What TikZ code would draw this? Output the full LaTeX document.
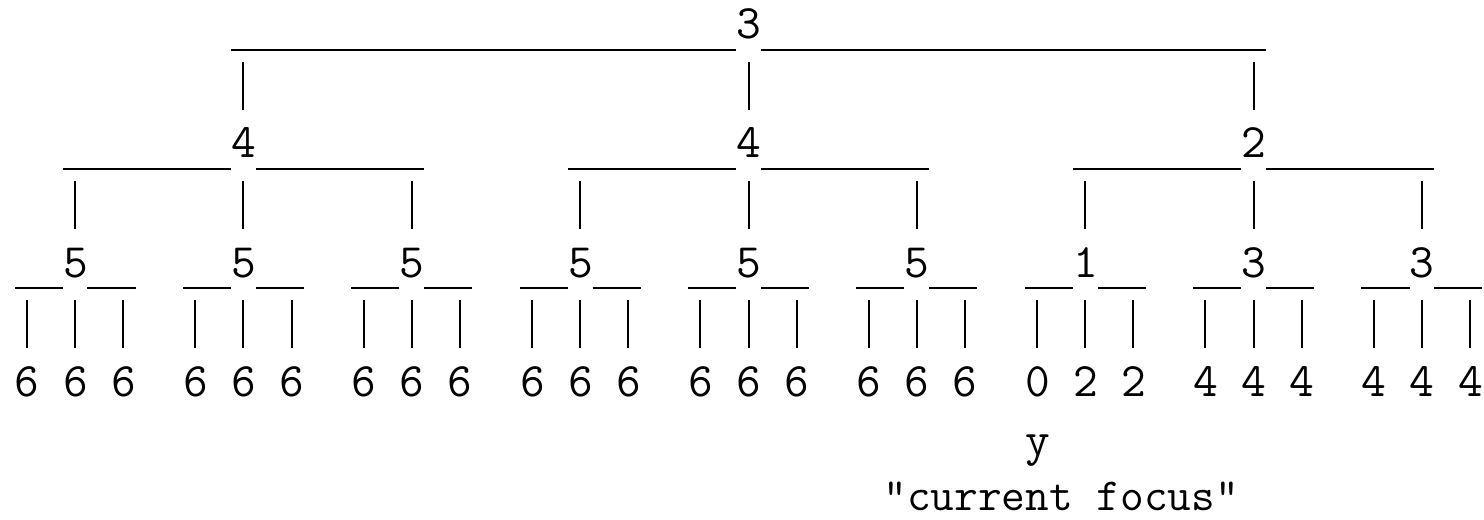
\documentclass[tikz,border=0pt]{standalone}
\usepackage{tikz}

\begin{document}
\begin{tikzpicture}[x=12.025pt, y=-29.75pt,
    digit/.style={font=\ttfamily\fontsize{24}{24}\selectfont, inner sep=0pt, anchor=base,
      text width=12.025pt, align=center, text height=15pt, text depth=5.5pt},
    bar/.style={line width=1pt},
    pipe/.style={line width=1pt, shorten <=6pt, shorten >=9pt}]
    \useasboundingbox (-1.12,-0.655) rectangle (60.58,8.08);
    \node[digit](top) at (30,0) {3};
    \node[digit](l) at (9,2) {4};
    \node[digit](m) at (30,2) {4};
    \node[digit](r) at (51,2) {2};
    % third row and its leaves: name/column/value/leaf values
    \foreach \n/\c/\v/\a/\b/\d in {ll/2/5/6/6/6, lm/9/5/6/6/6, lr/16/5/6/6/6,
        ml/23/5/6/6/6, mm/30/5/6/6/6, mr/37/5/6/6/6, rl/44/1/0/2/2, rm/51/3/4/4/4, rr/58/3/4/4/4} {
        \node[digit](\n) at (\c,4) {\v};
        \node[digit](\n1) at (\c-2,6) {\a};
        \node[digit](\n2) at (\c,6) {\b};
        \node[digit](\n3) at (\c+2,6) {\d};
        \draw[bar] (\n.south west) -- (\n.south west -| \n1.west);
        \draw[bar] (\n.south east) -- (\n.south east -| \n3.east);
        \foreach \k in {1,2,3} \draw[pipe] (\n\k |- \n.south) -- (\n\k);
    }
    \foreach \n in {l,m,r} {
        \draw[bar] (\n.south west) -- (\n.south west -| \n l.west);
        \draw[bar] (\n.south east) -- (\n.south east -| \n r.east);
        \foreach \k in {l,m,r} \draw[pipe] (\n\k |- \n.south) -- (\n\k);
    }
    \draw[bar] (top.south west) -- (top.south west -| l.west);
    \draw[bar] (top.south east) -- (top.south east -| r.east);
    \foreach \k in {l,m,r} \draw[pipe] (\k |- top.south) -- (\k);
    \node[digit](y) at (42,7) {y};
    \node[font=\ttfamily\fontsize{23}{23}\selectfont, inner sep=0pt, anchor=base](focus) at (43,7.92) {"current focus"};
\end{tikzpicture}
\end{document}
